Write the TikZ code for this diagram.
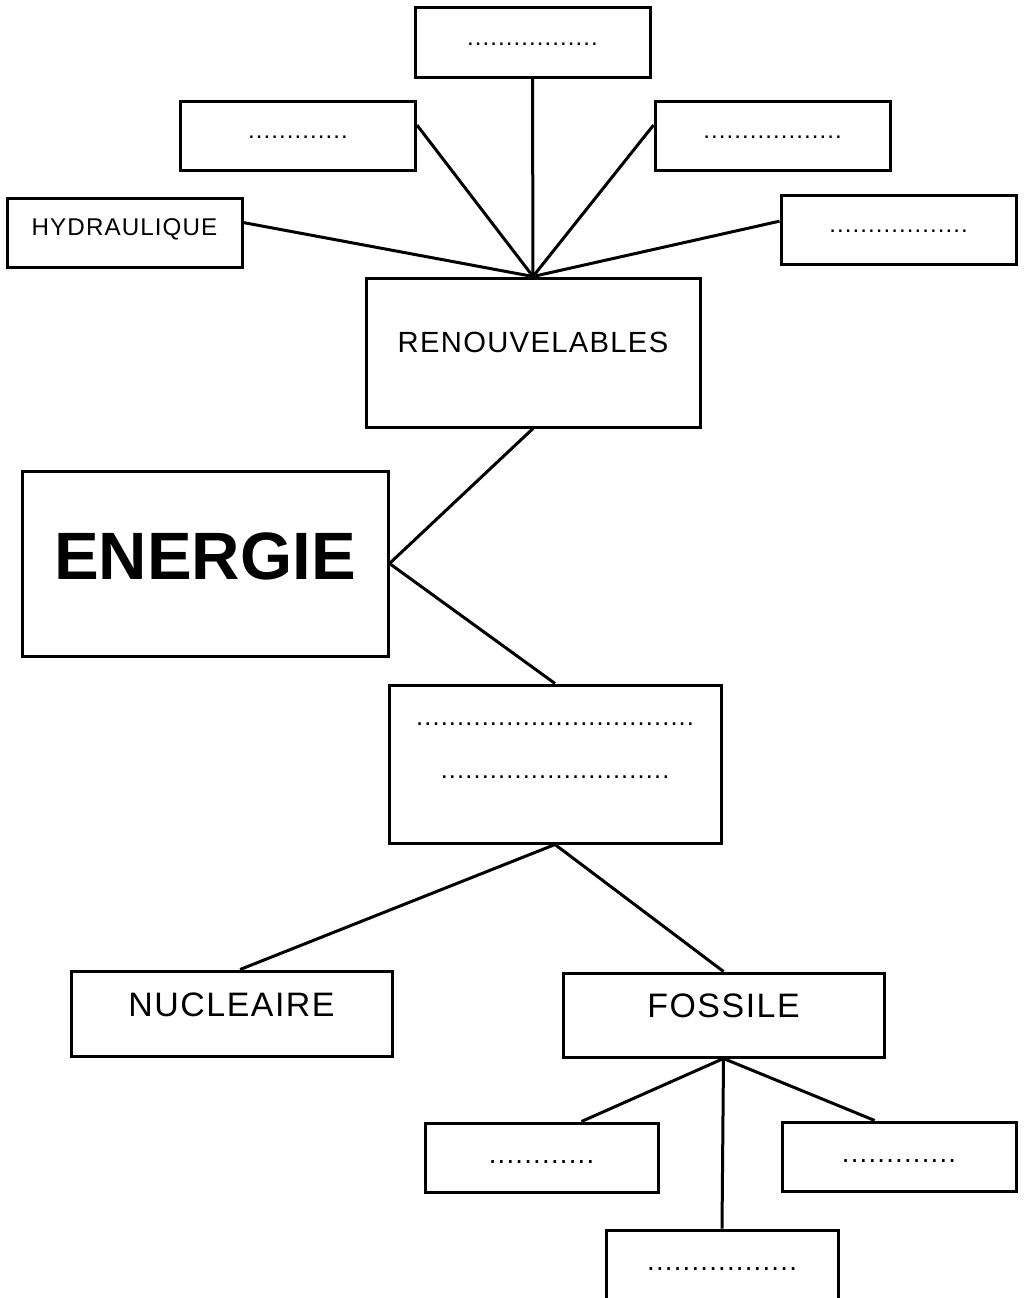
\documentclass[tikz,border=0pt]{standalone}
\usepackage{fontspec}
\setmainfont{Liberation Sans}[LetterSpace=4.5]
\newfontfamily\titlefont{Liberation Sans}
\usetikzlibrary{positioning}

\begin{document}
\begin{tikzpicture}[x=1pt,y=-1pt,
  box/.style={draw,line width=3pt,inner sep=0pt},
  small/.style={box,minimum width=235pt,minimum height=69pt},
  blank/.style={font=\fontsize{24}{28}\selectfont,text height=6pt,text depth=0pt},
  blankbig/.style={font=\fontsize{27.5}{32}\selectfont,text height=11pt,text depth=0pt},
  link/.style={line width=3pt}]
\useasboundingbox (0,0) rectangle (1027,1298);
\node[small,blank] (ren2) at (532.5,42.5) {.................};
\node[small,blank] (ren1) at (298,135.5) {.............};
\node[small,blank] (ren3) at (772.5,135.5) {..................};
\node[small,font=\fontsize{24.2}{28}\selectfont,text depth=12pt] (hydraulique) at (124.5,233) {HYDRAULIQUE};
\node[small,blank] (ren4) at (898.5,229.5) {..................};
\node[box,minimum width=334pt,minimum height=149pt,font=\fontsize{29.2}{34}\selectfont,text depth=21pt] (renouvelables) at (533,352.5) {RENOUVELABLES};
\node[box,minimum width=366pt,minimum height=185pt,font=\titlefont\bfseries\fontsize{67}{70}\selectfont,text depth=15pt] (energie) at (205,563.5) {ENERGIE};
\node[box,minimum width=332pt,minimum height=158pt] (nonrenouv) at (555,764) {};
\node[align=center,inner sep=0pt,font=\fontsize{25.4}{53}\selectfont] (nonrenouvtxt) at (555,750.5) {..................................\\............................};
\node[box,minimum width=321pt,minimum height=85pt,font=\fontsize{33.9}{38}\selectfont,text depth=17pt] (nucleaire) at (231.5,1013.5) {NUCLEAIRE};
\node[box,minimum width=321pt,minimum height=84pt,font=\fontsize{33.9}{38}\selectfont,text depth=18pt] (fossile) at (723.5,1015) {FOSSILE};
\node[small,blankbig,minimum width=233pt] (fos1) at (541.5,1157.5) {............};
\node[small,blankbig,minimum width=234pt] (fos2) at (899,1156.5) {.............};
\node[small,blankbig,minimum width=232pt] (fos3) at (722,1264.5) {.................};
\draw[link] (hydraulique.5) -- (renouvelables.north);
\draw[link] (ren1.5) -- (renouvelables.north);
\draw[link] (ren2.south) -- (renouvelables.north);
\draw[link] (ren3.175) -- (renouvelables.north);
\draw[link] (ren4.176) -- (renouvelables.north);
\draw[link] (renouvelables.south) -- (energie.east) -- (nonrenouv.north);
\draw[link] (nonrenouv.south) -- (nucleaire.79);
\draw[link] (nonrenouv.south) -- (fossile.north);
\draw[link] (fossile.south) -- (fos1.42);
\draw[link] (fossile.south) -- (fos2.124);
\draw[link] (fossile.south) -- (fos3.north);
\end{tikzpicture}
\end{document}
